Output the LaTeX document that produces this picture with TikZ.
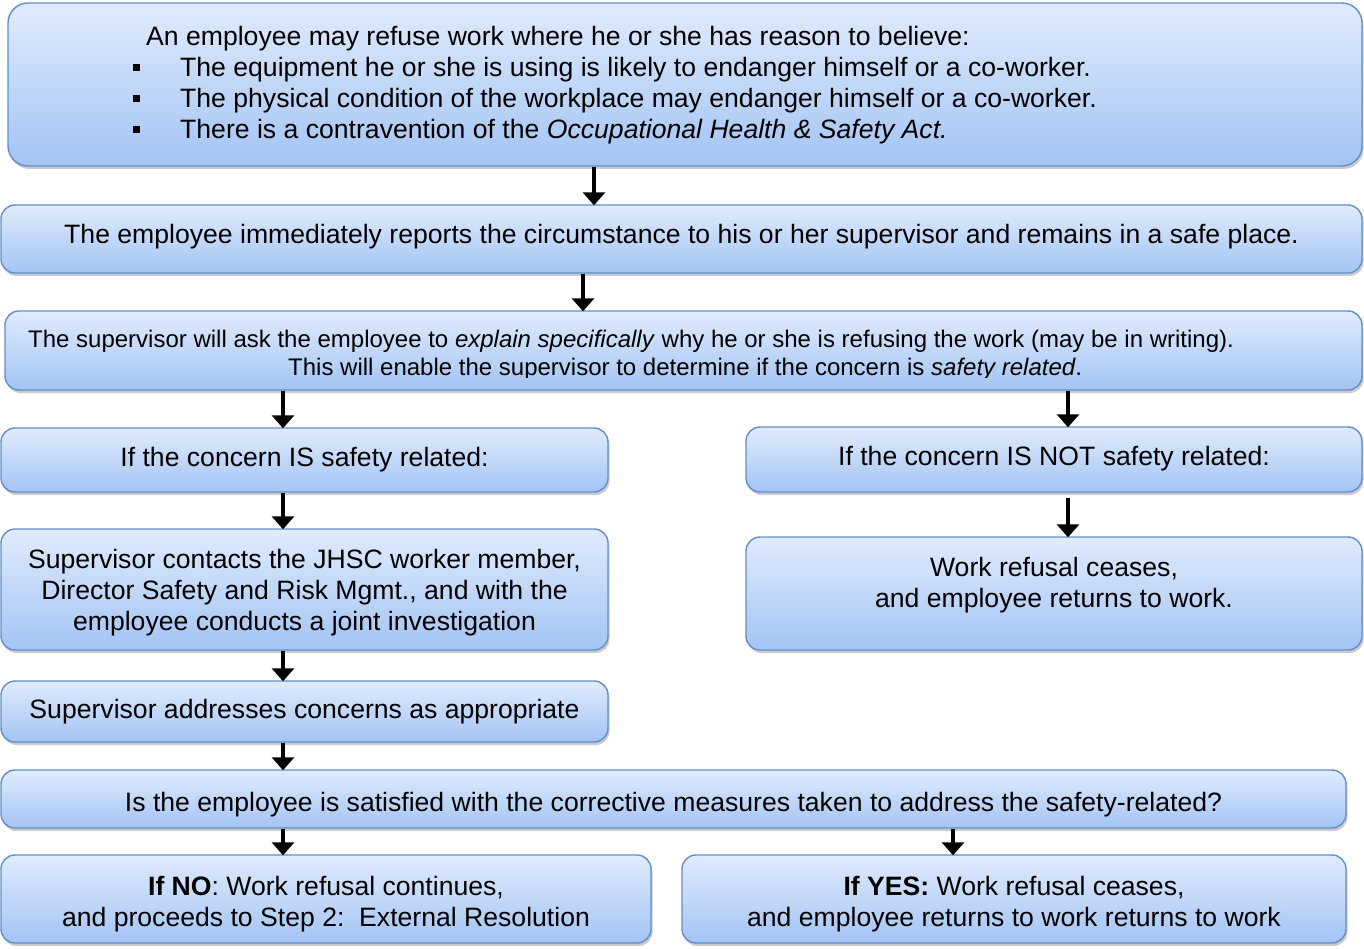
\documentclass[tikz,border=0pt]{standalone}
\usepackage{fontspec}
\setmainfont{Liberation Sans}
\usetikzlibrary{arrows.meta,shadows}
\definecolor{boxtop}{RGB}{224,235,253}
\definecolor{boxbot}{RGB}{163,196,244}
\definecolor{boxline}{RGB}{98,143,203}
\newcommand{\vmove}[2]{\raisebox{#1}[\height][\depth]{#2}}
\tikzset{
  flowbox/.style={draw=boxline, line width=1.4pt, rounded corners=14pt,
    top color=boxtop, bottom color=boxbot, inner sep=0pt, align=center,
    font=\fontsize{26.6}{31}\selectfont,
    drop shadow={shadow xshift=1.5pt, shadow yshift=-3pt, opacity=0.35, fill=black!60}},
  txt/.style={inner sep=0pt, align=left},
  flowarrow/.style={line width=3.6pt, black, -{Triangle[width=22pt,length=13pt]}, shorten >=-1pt}
}
\begin{document}
\begin{tikzpicture}[x=1pt,y=-1pt]
\useasboundingbox (0,0) rectangle (1364,949);
% boxes
\node[flowbox, rounded corners=20pt, minimum width=1354pt, minimum height=163pt] (b1) at (685,84.5) {};
\node[flowbox, minimum width=1361pt, minimum height=68pt] (b2) at (681.5,239)
  {\vmove{2pt}{The employee immediately reports the circumstance to his or her supervisor and remains in a safe place.}};
\node[flowbox, minimum width=1357pt, minimum height=79pt] (b3) at (683.5,350.5) {};
\node[flowbox, minimum width=607pt, minimum height=64pt] (is) at (304.5,460)
  {If the concern IS safety related:};
\node[flowbox, minimum width=616pt, minimum height=65pt] (isnot) at (1054,459.5)
  {\vmove{1pt}{If the concern IS NOT safety related:}};
\node[flowbox, minimum width=607pt, minimum height=121pt] (contact) at (304.5,589.5)
  {\vmove{-3.5pt}{\begin{tabular}{@{}c@{}}Supervisor contacts the JHSC worker member,\\Director Safety and Risk Mgmt., and with the\\employee conducts a joint investigation\end{tabular}}};
\node[flowbox, minimum width=616pt, minimum height=113pt] (ceases) at (1054,593.5) {};
\node[flowbox, minimum width=607pt, minimum height=61pt] (address) at (304.5,711.5)
  {Supervisor addresses concerns as appropriate};
\node[flowbox, minimum width=1345pt, minimum height=58pt] (sat) at (673.5,799)
  {\vmove{-6pt}{Is the employee is satisfied with the corrective measures taken to address the safety-related?}};
\node[flowbox, minimum width=650pt, minimum height=88pt] (no) at (326,899)
  {\vmove{-5.5pt}{\begin{tabular}{@{}c@{}}\textbf{If NO}: Work refusal continues,\\and proceeds to Step 2:\ \ External Resolution\end{tabular}}};
\node[flowbox, minimum width=664pt, minimum height=88pt] (yes) at (1014,899)
  {\vmove{-5.5pt}{\begin{tabular}{@{}c@{}}\textbf{If YES:} Work refusal ceases,\\and employee returns to work returns to work\end{tabular}}};
% texts placed freely
\node[txt, anchor=base west, font=\fontsize{26.6}{31}\selectfont] (b1txt) at (133,45.5)
  {\begin{tabular}[t]{@{}p{47pt}@{}l@{}}
   \multicolumn{2}{@{\hspace{13pt}}l@{}}{An employee may refuse work where he or she has reason to believe:}\\
   \rule[5pt]{7pt}{7pt} & The equipment he or she is using is likely to endanger himself or a co-worker.\\
   \rule[5pt]{7pt}{7pt} & The physical condition of the workplace may endanger himself or a co-worker.\\
   \rule[5pt]{7pt}{7pt} & There is a contravention of the \textit{Occupational Health \& Safety Act.}
   \end{tabular}};
\begin{scope}
\clip (0,300) rectangle (1364,377.5);
\node[txt, anchor=base west, font=\fontsize{24}{28}\selectfont] (b3l1) at (28,347)
  {The supervisor will ask the employee to \textit{explain specifically} why he or she is refusing the work (may be in writing).};
\node[txt, anchor=base west, font=\fontsize{24}{28}\selectfont] (b3l2) at (288,375)
  {This will enable the supervisor to determine if the concern is \textit{safety related}.};
\end{scope}
\node[txt, align=center, font=\fontsize{26.6}{31}\selectfont] (cestxt) at (1054,585.5)
  {Work refusal ceases,\\and employee returns to work.};
% arrow columns
\coordinate (xa) at (594,0);
\coordinate (xb) at (583,0);
\coordinate (xl) at (283,0);
\coordinate (xr) at (1068,0);
\coordinate (xy) at (953,0);
\draw[flowarrow] (b1.south -| xa) -- (b2.north -| xa);
\draw[flowarrow] (b2.south -| xb) -- (b3.north -| xb);
\draw[flowarrow] (b3.south -| xl) -- (is.north -| xl);
\draw[flowarrow] (b3.south -| xr) -- (isnot.north -| xr);
\draw[flowarrow] (is.south -| xl) -- (contact.north -| xl);
\draw[flowarrow] ([yshift=-5pt]isnot.south -| xr) -- (ceases.north -| xr);
\draw[flowarrow] (contact.south -| xl) -- (address.north -| xl);
\draw[flowarrow] (address.south -| xl) -- (sat.north -| xl);
\draw[flowarrow] (sat.south -| xl) -- (no.north -| xl);
\draw[flowarrow] (sat.south -| xy) -- (yes.north -| xy);
\end{tikzpicture}
\end{document}
